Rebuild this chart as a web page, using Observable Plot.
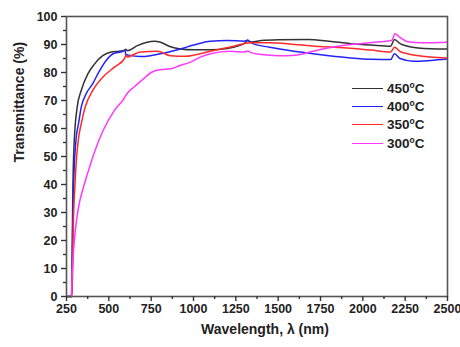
<!DOCTYPE html>
<html>
<head>
<meta charset="utf-8">
<script src="https://cdn.jsdelivr.net/npm/d3@7"></script>
<script src="https://cdn.jsdelivr.net/npm/@observablehq/plot@0.6"></script>
<style>
  html, body { margin: 0; padding: 0; background: #fff; }
  #wrap { position: relative; width: 460px; height: 347px; font-family: "Liberation Sans", Arial, sans-serif; }
  #legend { position: absolute; left: 352px; top: 79px; }
  .row { display: flex; align-items: center; height: 18.4px; }
  .sw { width: 31px; height: 0; border-top: 1.6px solid; margin-right: 4px; }
  .lb { font-weight: bold; font-size: 13.5px; color: #222; }
  .lb sup { font-size: 8.5px; vertical-align: 5px; line-height: 0; }
</style>
</head>
<body>
<div id="wrap"><div id="chart"></div><div id="legend"></div></div>
<script>
const seriesNames = ["450°C", "400°C", "350°C", "300°C"];
const seriesColors = ["#333333", "#2323f5", "#ff2a2a", "#ff38ff"];

const s450 = [[250,0],[280,0],[284,20],[288,40],[292,50],[297,57],[313,67.6],[337,73.6],[376,79.5],[415,83],[464,86],[514,87.3],[560,87.6],[593,87.9],[600,88.3],[610,87.8],[669,89.6],[720,90.7],[770,91.2],[805,90.8],[860,89.3],[923,88.4],[1000,88.1],[1100,88.1],[1200,88.6],[1300,90.4],[1320,91.3],[1340,90.9],[1400,91.4],[1500,91.7],[1673,91.8],[1800,91.2],[1927,90.3],[2050,89.8],[2164,89.4],[2187,91.8],[2220,90.3],[2264,89.4],[2400,88.5],[2500,88.4]];
const s400 = [[250,0],[282,0],[288,30],[295,45],[307,56.5],[321,61.7],[337,67.6],[366,72.4],[405,76],[435,79.5],[484,84.3],[525,86.7],[583,87.6],[595,88],[600,86.5],[615,86.2],[687,85.7],[746,86],[830,87],[923,88.4],[1000,89.8],[1100,91.2],[1200,91.4],[1300,91.2],[1320,91.6],[1340,90.6],[1450,89],[1632,87.3],[1800,86],[1927,85.2],[2050,84.7],[2164,84.6],[2187,86.7],[2220,85],[2300,84],[2400,84.3],[2500,84.8]];
const s350 = [[250,0],[283,0],[290,25],[300,40],[310,50],[321,56.5],[337,61.7],[360,67.6],[405,73.6],[464,78.3],[533,81.9],[593,85],[600,86.2],[610,85.5],[632,86],[687,87.3],[787,87.6],[864,86],[950,85.8],[1100,87.6],[1238,89.4],[1337,90.6],[1450,90.6],[1600,90],[1750,89.3],[1927,88.7],[2050,88],[2164,87.3],[2187,89],[2220,87.5],[2264,86.7],[2400,85.5],[2500,85.2]];
const s300 = [[250,0],[278,0],[284,9],[290,15],[297,20.5],[310,27.5],[323,32.5],[350,39],[380,45],[415,51.5],[464,59],[533,66.5],[593,71],[600,71.8],[652,75],[700,77.5],[750,80],[800,81],[864,81.3],[920,82.5],[982,83.7],[1040,85.5],[1100,86.7],[1218,87.6],[1300,87.3],[1320,87.7],[1340,87.1],[1400,86.4],[1500,86],[1600,86.2],[1700,87.5],[1800,88.8],[1900,89.8],[2000,90.4],[2100,91],[2170,91.4],[2190,93.8],[2220,92.5],[2264,91],[2350,90.6],[2500,90.8]];

const xTicks = [250, 500, 750, 1000, 1250, 1500, 1750, 2000, 2250, 2500];
const xMinor = [375, 625, 875, 1125, 1375, 1625, 1875, 2125, 2375];
const yTicks = [0, 10, 20, 30, 40, 50, 60, 70, 80, 90, 100];
const yMinor = [5, 15, 25, 35, 45, 55, 65, 75, 85, 95];

const allSeries = [s450, s400, s350, s300];
const rows = allSeries.flatMap((s, i) => s.map(([w, t]) => ({w, t, name: seriesNames[i]})));

const chart = Plot.plot({
  width: 460,
  height: 347,
  marginLeft: 66,
  marginRight: 13,
  marginTop: 16,
  marginBottom: 51,
  style: {fontFamily: "'Liberation Sans', Arial, sans-serif", background: "#fff", color: "#222"},
  x: {domain: [250, 2500]},
  y: {domain: [0, 100]},
  color: {domain: seriesNames, range: seriesColors},
  marks: [
    Plot.line(rows, {x: "w", y: "t", z: "name", stroke: "name", strokeWidth: 1.5, curve: "monotone-x"}),
    Plot.frame({stroke: "#555", strokeWidth: 1.6}),
    Plot.axisX({ticks: xTicks, tickSize: 5, tickPadding: 3, tickFormat: d => String(d), fontSize: 12.5, fontWeight: "bold", label: null, stroke: "#333", strokeWidth: 1.4}),
    Plot.axisX({ticks: xMinor, tickSize: 3, text: null, label: null, stroke: "#333", strokeWidth: 1.4}),
    Plot.axisY({ticks: yTicks, tickSize: 5, tickPadding: 4, tickFormat: d => String(d), fontSize: 12.5, fontWeight: "bold", label: null, stroke: "#333", strokeWidth: 1.4}),
    Plot.axisY({ticks: yMinor, tickSize: 3, text: null, label: null, stroke: "#333", strokeWidth: 1.4}),
    Plot.text(["Wavelength, λ (nm)"], {frameAnchor: "bottom", dx: 8, dy: 37, fontSize: 14, fontWeight: "bold", fill: "#222"}),
    Plot.text(["Transmittance (%)"], {frameAnchor: "left", dx: -47, dy: 6, rotate: -90, fontSize: 14, fontWeight: "bold", fill: "#222"})
  ]
});
document.getElementById("chart").appendChild(chart);

const legend = document.getElementById("legend");
seriesNames.forEach((n, i) => {
  const row = document.createElement("div");
  row.className = "row";
  const sw = document.createElement("div");
  sw.className = "sw";
  sw.style.borderTopColor = seriesColors[i];
  const lb = document.createElement("div");
  lb.className = "lb";
  lb.innerHTML = n.replace("°C", "<sup>o</sup>C");
  row.appendChild(sw);
  row.appendChild(lb);
  legend.appendChild(row);
});
</script>
</body>
</html>
